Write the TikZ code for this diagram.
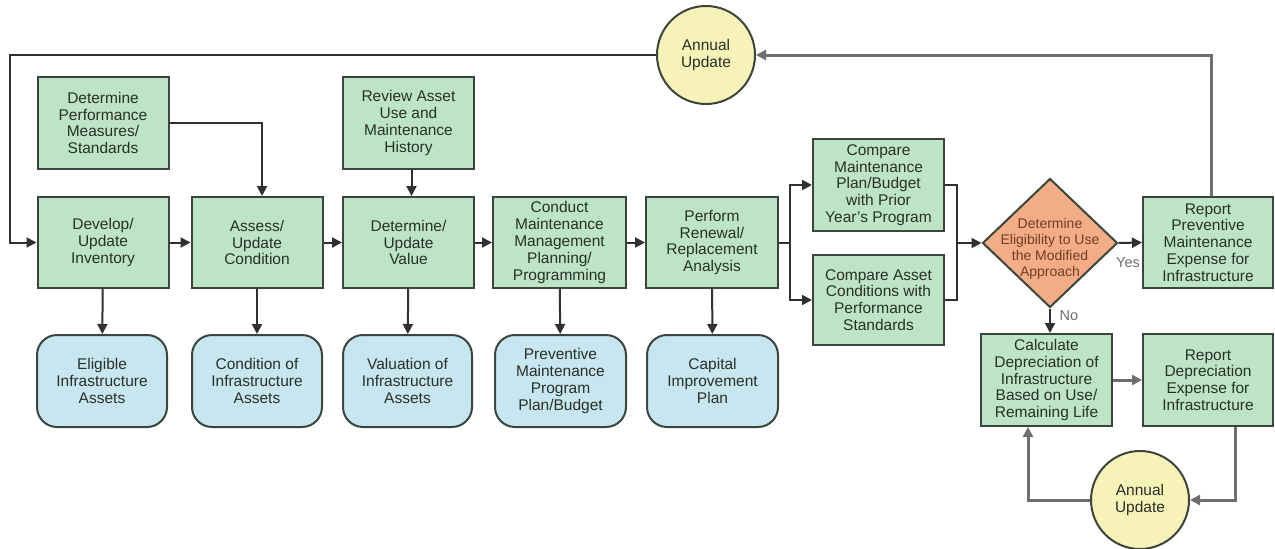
\documentclass[tikz,border=0pt]{standalone}
\usepackage{fontspec}
\setmainfont{Liberation Sans}
\usetikzlibrary{arrows.meta,shapes.geometric,calc}
\definecolor{gfill}{HTML}{BDE5C5}
\definecolor{bfill}{HTML}{C8E6EF}
\definecolor{yfill}{HTML}{F7F3B8}
\definecolor{ofill}{HTML}{F2AC86}
\definecolor{edge}{HTML}{3A463C}
\definecolor{linec}{HTML}{303030}
\definecolor{grayline}{HTML}{6E6E6E}
\definecolor{txt}{HTML}{283028}
\definecolor{otxt}{HTML}{703E26}
\tikzset{
  base/.style={draw=edge, line width=2pt, align=center, inner sep=0pt,
    text=txt, font=\fontsize{15.5}{16.8}\selectfont},
  gbox/.style={base, fill=gfill, minimum width=131pt, minimum height=91pt},
  bbox/.style={base, fill=bfill, minimum width=131pt, minimum height=92pt, rounded corners=20pt},
  ycirc/.style={base, circle, fill=yfill, minimum size=98pt},
  dia/.style={draw=edge, line width=2pt, diamond, fill=ofill, minimum width=135pt, minimum height=129pt, inner sep=0pt},
  diatext/.style={align=center, inner sep=0pt, text=otxt, font=\fontsize{14}{16}\selectfont},
  lab/.style={inner sep=0pt, text=grayline, font=\fontsize{14.5}{16}\selectfont},
  conn/.style={draw=linec, line width=2pt, -{Triangle[length=10pt,width=10pt]}},
  plain/.style={draw=linec, line width=2pt},
  gconn/.style={draw=grayline, line width=3pt, -{Triangle[length=10pt,width=10pt]}},
  gplain/.style={draw=grayline, line width=3pt},
}
\begin{document}
\begin{tikzpicture}[x=1pt,y=-1pt]
\useasboundingbox[fill=white] (0,0) rectangle (1275,549);

% top inputs
\node[gbox, minimum height=92pt] (perf) at (103,123) {Determine\\Performance\\Measures/\\Standards};
\node[gbox, minimum height=92pt] (review) at (408.5,123) {Review Asset\\Use and\\Maintenance\\History};

% main row
\node[gbox] (develop) at (103,242.5) {Develop/\\Update\\Inventory};
\node[gbox] (assess) at (257,242.5) {Assess/\\Update\\Condition};
\node[gbox] (value) at (408.5,242.5) {Determine/\\Update\\Value};
\node[gbox, minimum width=133pt] (conduct) at (559.5,242.5) {Conduct\\Maintenance\\Management\\Planning/\\Programming};
\node[gbox, minimum width=132pt] (perform) at (712,242.5) {Perform\\Renewal/\\Replacement\\Analysis};
\node[gbox, minimum height=92pt] (cmpM) at (878.5,185) {Compare\\Maintenance\\Plan/Budget\\with Prior\\Year's Program};
\node[gbox, minimum height=90pt] (cmpA) at (878.5,300) {Compare Asset\\Conditions with\\Performance\\Standards};
\node[dia] (dec) at (1050,243) {};
\node[diatext] (dect) at (1050,249) {Determine\\Eligibility to Use\\the Modified\\Approach};
\node[gbox, minimum width=130pt] (rptP) at (1208,242.5) {Report\\Preventive\\Maintenance\\Expense for\\Infrastructure};
\node[gbox, minimum height=92pt] (calc) at (1046.5,380) {Calculate\\Depreciation of\\Infrastructure\\Based on Use/\\Remaining Life};
\node[gbox, minimum width=130pt, minimum height=92pt] (rptD) at (1208,380) {Report\\Depreciation\\Expense for\\Infrastructure};

% outputs
\node[bbox, minimum width=130pt] (elig) at (102,381) {Eligible\\Infrastructure\\Assets};
\node[bbox, minimum width=130pt] (cond) at (257,381) {Condition of\\Infrastructure\\Assets};
\node[bbox, minimum width=129pt] (valu) at (407.5,381) {Valuation of\\Infrastructure\\Assets};
\node[bbox] (prev) at (560.5,381) {Preventive\\Maintenance\\Program\\Plan/Budget};
\node[bbox] (capi) at (712.5,381) {Capital\\Improvement\\Plan};

% annual update circles
\node[ycirc] (ann1) at (706,55) {Annual\\Update};
\node[ycirc] (ann2) at (1140,500) {Annual\\Update};

% connectors main row
\draw[conn] (develop) -- (assess);
\draw[conn] (assess) -- (value);
\draw[conn] (value) -- (conduct);
\draw[conn] (conduct) -- (perform);

% inputs
\draw[conn] (perf.east) -| ([xshift=5pt]assess.north);
\draw[conn] ([xshift=3pt]review.south) -- ([xshift=3pt]value.north);

% outputs
\draw[conn] (develop) -- (elig);
\draw[conn] (assess) -- (cond);
\draw[conn] (value) -- (valu);
\draw[conn] (conduct) -- (prev);
\draw[conn] (perform) -- (capi);

% split to comparisons
\coordinate (sp) at (790,242.5);
\draw[plain] (perform.east) -- (sp);
\draw[conn] (sp) |- (cmpM.west);
\draw[conn] (sp) |- (cmpA.west);

% merge to decision
\coordinate (mg) at (957,243);
\draw[plain] (cmpM.east) -| (mg);
\draw[plain] (cmpA.east) -| (mg);
\draw[conn] (mg) -- (dec.west);

% decision
\draw[conn] (dec.east) -- (rptP.west);
\node[lab] (yes) at (1128,263) {Yes};
\draw[conn] (dec.south) -- (dec.south |- calc.north);
\node[lab] (no) at (1069,316) {No};

% depreciation loop
\draw[gconn] (calc.east) -- (rptD.west);
\draw[gconn] ([xshift=27pt]rptD.south) |- (ann2.east);
\draw[gconn] (ann2.west) -| ([xshift=-18.5pt]calc.south);

% annual update top loop
\draw[gconn] ([xshift=3pt]rptP.north) |- (ann1.east);
\coordinate (tl) at (10,55);
\draw[conn] (ann1.west) -- (tl) |- (develop.west);
\end{tikzpicture}
\end{document}
